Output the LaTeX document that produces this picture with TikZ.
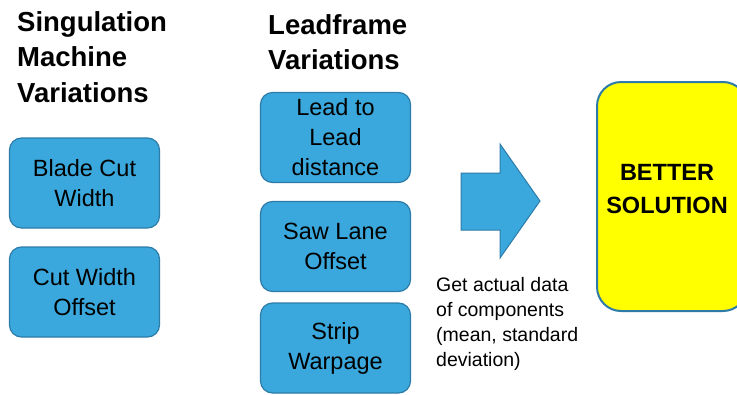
\documentclass[tikz,border=0pt]{standalone}
\usepackage{fontspec}
\setmainfont{Liberation Sans}
\definecolor{boxfill}{HTML}{3AA8DC}
\definecolor{boxline}{HTML}{2C7BA8}
\definecolor{solfill}{HTML}{FFFF00}
\begin{document}
\begin{tikzpicture}[x=1pt,y=-1pt,
  varbox/.style={draw=boxline, line width=1.2pt, fill=boxfill, rounded corners=12pt,
    minimum width=150pt, minimum height=90pt, inner sep=0pt, align=center,
    font=\fontsize{23.5}{30}\selectfont},
  titletext/.style={anchor=north west, align=left, inner sep=0pt,
    font=\fontsize{27.5}{35.5}\selectfont\bfseries},
  labeltext/.style={anchor=north west, align=left, inner sep=0pt,
    font=\fontsize{19.5}{25}\selectfont}]
\useasboundingbox (0,0) rectangle (737,394);
\clip (0,0) rectangle (737,394);
% titles
\node[titletext] (t1) at (17,11) {Singulation\\Machine\\Variations};
\node[titletext] (t2) at (268,14) {Leadframe\\Variations};
% left boxes
\node[varbox] (b1) at (84.5,183) {Blade Cut\\Width};
\node[varbox] (b2) at (84.5,292) {Cut Width\\Offset};
% middle boxes
\node[varbox] (m1) at (335.5,137.5) {Lead to\\Lead\\distance};
\node[varbox] (m2) at (335.5,246.5) {Saw Lane\\Offset};
\node[varbox] (m3) at (335.5,348) {Strip\\Warpage};
% arrow
\draw[draw=boxline, line width=1pt, fill=boxfill]
  (461,173) -- (500,173) -- (500,144) -- (540,201) -- (500,258) -- (500,230) -- (461,230) -- cycle;
\coordinate (arrtip) at (540,201);
% label
\node[labeltext] (lab) at (436,277) {Get actual data\\of components\\(mean, standard\\deviation)};
% solution box
\node[draw=boxline, line width=2pt, fill=solfill, rounded corners=24pt,
  minimum width=150pt, minimum height=229pt, inner sep=0pt, anchor=north west,
  text width=150pt] (sol) at (596,81) {};
\node[align=center, inner sep=0pt, font=\fontsize{23.5}{33}\selectfont\bfseries]
  (soltext) at (667,189) {BETTER\\SOLUTION};
\end{tikzpicture}
\end{document}
